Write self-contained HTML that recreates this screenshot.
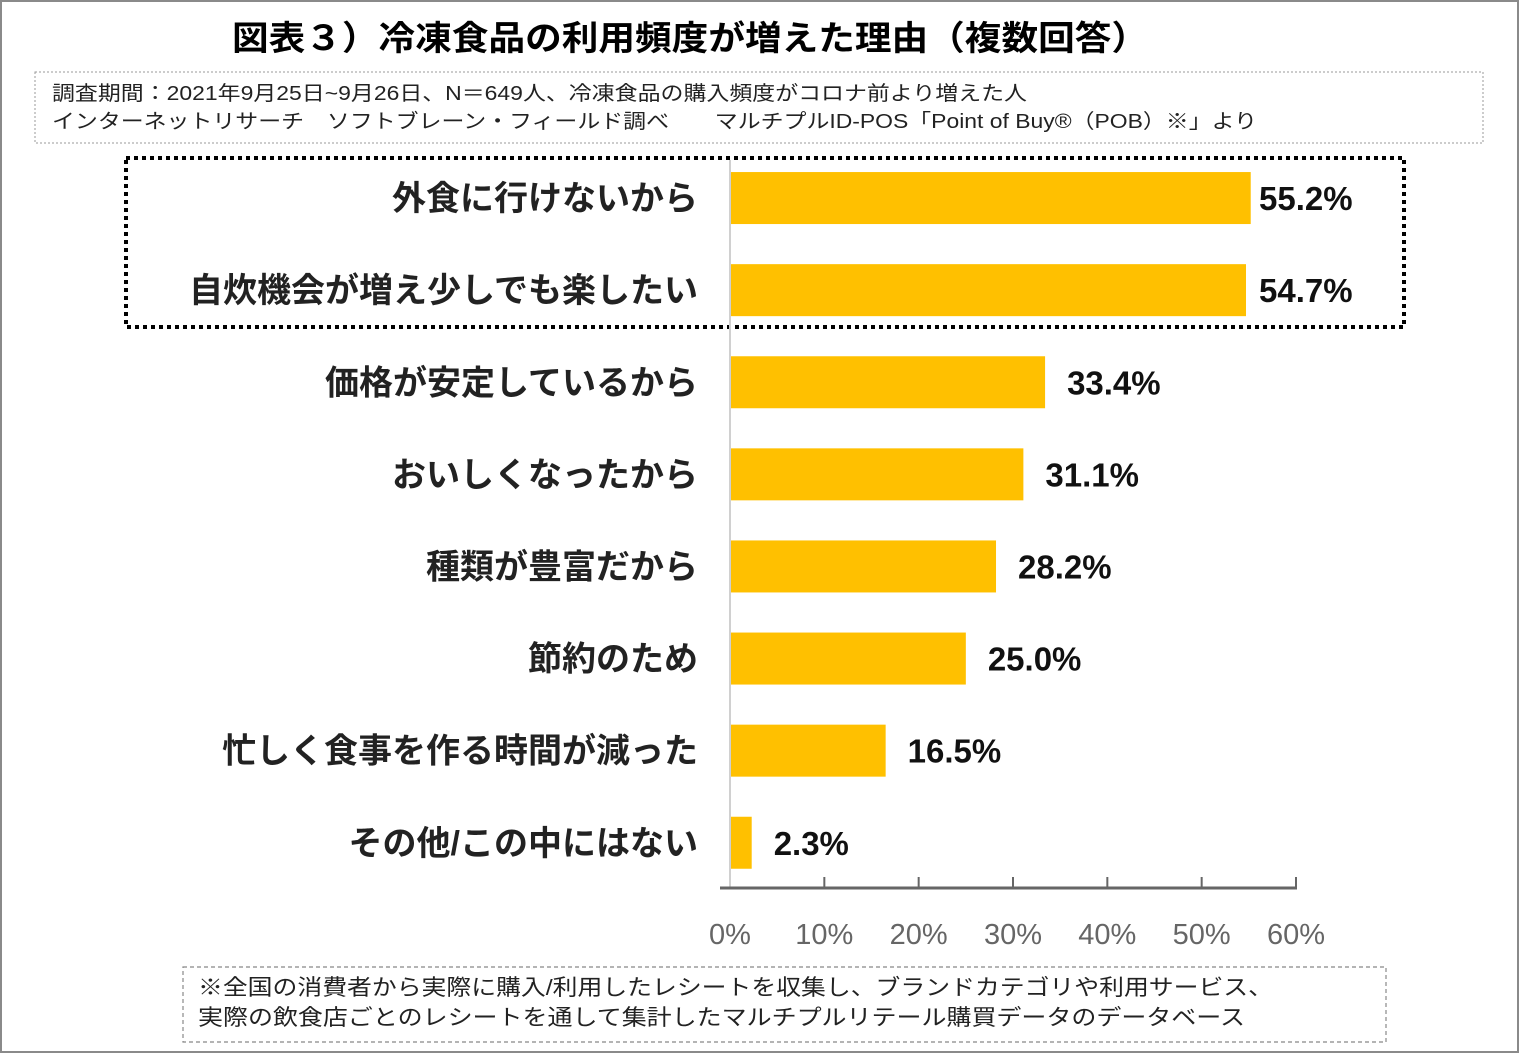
<!DOCTYPE html>
<html><head><meta charset="utf-8"><style>
html,body{margin:0;padding:0;background:#fff}
svg{display:block}
text{font-family:"Liberation Sans","Noto Sans CJK JP",sans-serif}
</style></head><body>
<svg id="c" width="1519" height="1053" viewBox="0 0 1519 1053" xmlns="http://www.w3.org/2000/svg">
<rect x="1" y="1" width="1517" height="1051" fill="#fff" stroke="#8a8a8a" stroke-width="2"/>
<text x="232" y="50" textLength="916" lengthAdjust="spacingAndGlyphs" font-size="34" font-weight="bold" fill="#000">図表３）冷凍食品の利用頻度が増えた理由（複数回答）</text>
<rect x="35" y="72" width="1448" height="71" fill="none" stroke="#999" stroke-width="1" stroke-dasharray="2,2"/>
<text x="52" y="100" textLength="975" lengthAdjust="spacingAndGlyphs" font-size="20" fill="#222">調査期間：2021年9月25日~9月26日、N＝649人、冷凍食品の購入頻度がコロナ前より増えた人</text>
<text x="52" y="128" textLength="1205" lengthAdjust="spacingAndGlyphs" font-size="20" fill="#222">インターネットリサーチ　ソフトブレーン・フィールド調べ　　マルチプルID-POS「Point of Buy®（POB）※」より</text>
<rect x="126" y="158" width="1278" height="169" fill="none" stroke="#000" stroke-width="4" stroke-dasharray="4,4"/>
<g id="bars"></g>
<line x1="730" y1="160" x2="730" y2="888" stroke="#d0d0d0" stroke-width="2"/>
<g id="axis"></g>
<rect x="183" y="967" width="1203" height="75" fill="none" stroke="#888" stroke-width="1.2" stroke-dasharray="4,3"/>
<text x="198" y="995" textLength="1075" lengthAdjust="spacingAndGlyphs" font-size="22" fill="#222">※全国の消費者から実際に購入/利用したレシートを収集し、ブランドカテゴリや利用サービス、</text>
<text x="198" y="1025" textLength="1047" lengthAdjust="spacingAndGlyphs" font-size="22" fill="#222">実際の飲食店ごとのレシートを通して集計したマルチプルリテール購買データのデータベース</text>
</svg>
<script>
const categories=["外食に行けないから","自炊機会が増え少しでも楽したい","価格が安定しているから","おいしくなったから","種類が豊富だから","節約のため","忙しく食事を作る時間が減った","その他/この中にはない"];
const values=[55.2,54.7,33.4,31.1,28.2,25.0,16.5,2.3];
const valueLabels=["55.2%","54.7%","33.4%","31.1%","28.2%","25.0%","16.5%","2.3%"];
const ticks=[0,10,20,30,40,50,60];
const tickLabels=["0%","10%","20%","30%","40%","50%","60%"];
const NS="http://www.w3.org/2000/svg";
const x0=730,x1=1296,vmax=60;
const xs=v=>x0+(x1-x0)*v/vmax;
const yTop=152,step=92.1,barH=52;
const yc=i=>yTop+step*(i+0.5);
const g=document.getElementById('bars');
function mk(tag,attrs,parent){const e=document.createElementNS(NS,tag);for(const k in attrs)e.setAttribute(k,attrs[k]);parent.appendChild(e);return e;}
categories.forEach((c,i)=>{
  const r=mk('rect',{'x':xs(0),'y':yc(i)-barH/2,'width':xs(values[i])-xs(0),'height':barH,'fill':'#ffc000'},g);
  
  
  const t=mk('text',{'x':698,'y':yc(i)+12,'text-anchor':'end','font-size':34,'font-weight':'bold','fill':'#222'},g);
  t.textContent=c;
  
  
  const v=mk('text',{'x':Math.min(xs(values[i])+22,1259),'y':yc(i)+12,'font-size':33,'font-weight':'bold','fill':'#111'},g);
  v.textContent=valueLabels[i];
  
  
});
const a=document.getElementById('axis');
const al=mk('line',{'x1':720,'y1':888,'x2':xs(vmax)+1,'y2':888,'stroke':'#666','stroke-width':3},a);


ticks.forEach((t,i)=>{
  if(t>0){const l=mk('line',{'x1':xs(t),'y1':877,'x2':xs(t),'y2':888,'stroke':'#666','stroke-width':2},a);
  
  }
  const tx=mk('text',{'x':xs(t),'y':944,'text-anchor':'middle','font-size':29,'fill':'#666'},a);
  tx.textContent=tickLabels[i];
  
  
});
</script>
</body></html>
